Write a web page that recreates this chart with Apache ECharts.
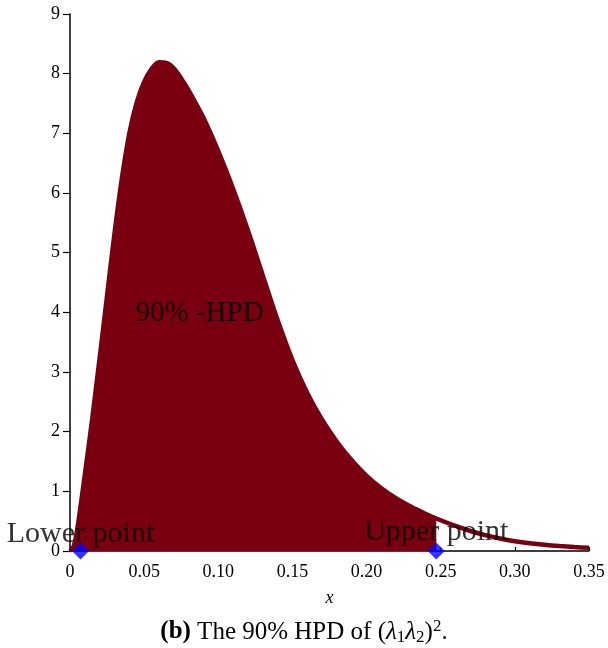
<!DOCTYPE html>
<html>
<head>
<meta charset="utf-8">
<script src="https://cdn.jsdelivr.net/npm/echarts@6/dist/echarts.min.js"></script>
<style>
html,body{margin:0;padding:0;background:#fff;}
#chart{width:608px;height:648px;}
</style>
</head>
<body>
<div id="chart"></div>
<script>
// Density curve
var curveX = [0, 0.0025, 0.005, 0.01, 0.015, 0.02, 0.025, 0.03, 0.035, 0.04, 0.045, 0.05, 0.055, 0.06, 0.065, 0.07, 0.075, 0.08, 0.09, 0.10, 0.11, 0.12, 0.13, 0.14, 0.15, 0.16, 0.17, 0.18, 0.19, 0.20, 0.21, 0.22, 0.23, 0.24, 0.247, 0.26, 0.27, 0.28, 0.29, 0.30, 0.31, 0.32, 0.33, 0.34, 0.35];
var curveY = [0, 0.08, 0.38, 1.28, 2.22, 3.24, 4.28, 5.32, 6.25, 7.00, 7.52, 7.86, 8.08, 8.19, 8.18, 8.09, 7.92, 7.72, 7.26, 6.70, 6.07, 5.37, 4.62, 3.87, 3.20, 2.65, 2.20, 1.83, 1.52, 1.26, 1.05, 0.88, 0.74, 0.62, 0.545, 0.42, 0.335, 0.265, 0.21, 0.165, 0.13, 0.103, 0.082, 0.066, 0.053];
// HPD interval end points
var hpdLower = [0.0071, 0];
var hpdUpper = [0.247, 0];
var pointNames = ['Lower point', 'Upper point'];
var hpdLabel = '90% -HPD';
var hpdLabelPos = [0.0442, 3.99];
// Tick labels
var xTickLabels = ['0', '0.05', '0.10', '0.15', '0.20', '0.25', '0.30', '0.35'];
var yTickLabels = ['0', '1', '2', '3', '4', '5', '6', '7', '8', '9'];

var FONT = '"Liberation Serif", "Times New Roman", serif';
var RED = '#790010';

var curve = curveX.map(function (x, i) { return [x, curveY[i]]; });
var hpdArea = curve.filter(function (p) { return p[0] <= hpdUpper[0] + 1e-9; });

var chart = echarts.init(document.getElementById('chart'), null, {renderer: 'canvas'});
chart.setOption({
  animation: false,
  backgroundColor: '#fff',
  title: {
    left: 'center',
    top: 613,
    text: '{b|(b)} The 90% HPD of ({l|λ}{sub|1}{l|λ}{sub|2}){sup|2}.',
    textStyle: {
      fontFamily: FONT, fontSize: 25, fontWeight: 'normal', color: '#000', lineHeight: 28,
      rich: {
        b: {fontFamily: FONT, fontSize: 25, fontWeight: 'bold', color: '#000', lineHeight: 28},
        l: {fontFamily: FONT, fontSize: 25, fontStyle: 'italic', color: '#000', lineHeight: 28},
        sub: {fontFamily: FONT, fontSize: 17, color: '#000', lineHeight: 10, verticalAlign: 'bottom'},
        sup: {fontFamily: FONT, fontSize: 17, color: '#000', lineHeight: 10, verticalAlign: 'top'}
      }
    }
  },
  grid: {left: 70, right: 19, top: 14, bottom: 97, containLabel: false},
  xAxis: {
    type: 'value', min: 0, max: 0.35, interval: 0.05,
    name: 'x', nameLocation: 'middle', nameGap: 38,
    nameTextStyle: {fontFamily: FONT, fontSize: 18, fontStyle: 'italic', color: '#000'},
    axisLine: {show: true, onZero: false, lineStyle: {color: '#000', width: 1.5}},
    axisTick: {show: true, inside: true, length: 4, lineStyle: {color: '#000', width: 1.2}},
    axisLabel: {
      margin: 12, fontFamily: FONT, fontSize: 18, color: '#000',
      formatter: function (v) { return xTickLabels[Math.round(v / 0.05)]; }
    },
    splitLine: {show: false}
  },
  yAxis: {
    type: 'value', min: 0, max: 9, interval: 1,
    axisLine: {show: true, lineStyle: {color: '#000', width: 1.5}},
    axisTick: {show: true, inside: false, length: 7, lineStyle: {color: '#000', width: 1.2}},
    axisLabel: {
      margin: 10, fontFamily: FONT, fontSize: 18, color: '#000',
      formatter: function (v) { return yTickLabels[Math.round(v)]; }
    },
    splitLine: {show: false}
  },
  series: [
    {
      type: 'line', data: hpdArea, smooth: 0.3, showSymbol: false, symbol: 'none',
      lineStyle: {width: 0, color: RED},
      areaStyle: {color: RED, opacity: 1, origin: 'start'},
      z: 1
    },
    {
      type: 'line', data: curve, smooth: 0.3, showSymbol: false, symbol: 'none',
      lineStyle: {width: 4.5, color: RED},
      z: 2
    },
    {
      type: 'scatter', data: [{value: hpdLabelPos, name: hpdLabel}],
      symbolSize: 0,
      label: {show: true, position: 'right', distance: 0, formatter: '{b}',
        fontFamily: FONT, fontSize: 29, color: '#000', verticalAlign: 'middle'},
      z: 3
    },
    {
      type: 'scatter',
      data: [
        {value: hpdLower, name: pointNames[0], label: {distance: -7}},
        {value: hpdUpper, name: pointNames[1], label: {distance: -5}}
      ],
      symbol: 'diamond', symbolSize: 17,
      itemStyle: {color: '#0000ff'},
      label: {show: true, position: 'top', formatter: '{b}',
        fontFamily: FONT, fontSize: 30, color: '#000'},
      clip: false,
      z: 4
    }
  ]
});
</script>
</body>
</html>
